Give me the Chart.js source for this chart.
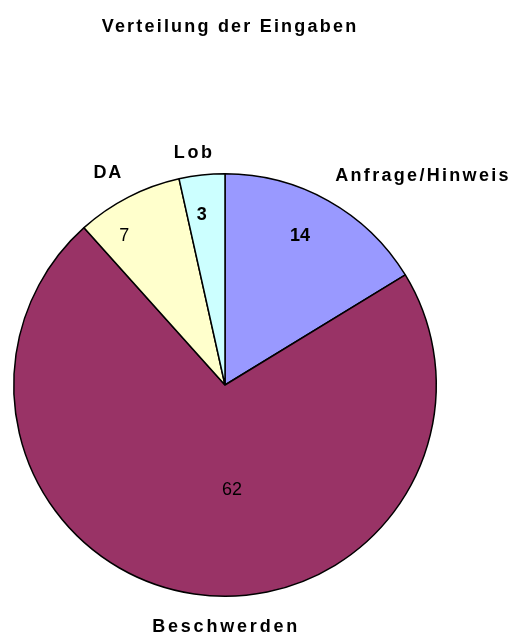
<!DOCTYPE html>
<html>
<head>
<meta charset="utf-8">
<script src="https://cdn.jsdelivr.net/npm/chart.js@4/dist/chart.umd.min.js"></script>
<style>
  html, body { margin: 0; padding: 0; background: #ffffff; }
  #wrap { width: 514px; height: 635px; position: relative; }
</style>
</head>
<body>
<div id="wrap"><canvas id="c"></canvas></div>
<script>
// ---- data ----
const chartTitle = "Verteilung der Eingaben";
const categories = ["Anfrage/Hinweis", "Beschwerden", "DA", "Lob"];
const values = [14, 62, 7, 3];

// ---- style ----
const colors = ["#9999FF", "#993366", "#FFFFCC", "#CCFFFF"];
const valueBold = [true, false, false, true];
// label placement: [angle offset (deg), radius factor]
const valuePlace = [[-2.6, 0.79], [-12.2, 0.50], [-6.9, 0.85], [-1.5, 0.81]];
const namePlace  = [[14.0, 1.36], [-8.4, 1.145], [-1.8, 1.15], [-1.5, 1.11]];
const nameSpacing = ['2.3px', '2.8px', '1.8px', '2.6px'];

const FONT = '"Liberation Sans", Arial, sans-serif';

const labelPlugin = {
  id: 'labels',
  afterDatasetsDraw(chart) {
    const ctx = chart.ctx;
    const meta = chart.getDatasetMeta(0);
    ctx.save();
    ctx.fillStyle = '#000';
    ctx.textAlign = 'center';
    ctx.textBaseline = 'middle';
    meta.data.forEach((arc, i) => {
      const p = arc.getProps(['x', 'y', 'startAngle', 'endAngle', 'outerRadius'], true);
      const mid = (p.startAngle + p.endAngle) / 2;
      // value
      let a = mid + valuePlace[i][0] * Math.PI / 180;
      let r = p.outerRadius * valuePlace[i][1];
      ctx.font = (valueBold[i] ? 'bold ' : '') + '18px ' + FONT;
      ctx.letterSpacing = '0px';
      ctx.fillText(String(values[i]), p.x + Math.cos(a) * r, p.y + Math.sin(a) * r);
      // name
      a = mid + namePlace[i][0] * Math.PI / 180;
      r = p.outerRadius * namePlace[i][1];
      ctx.font = 'bold 18px ' + FONT;
      ctx.letterSpacing = nameSpacing[i];
      ctx.fillText(categories[i], p.x + Math.cos(a) * r + 1, p.y + Math.sin(a) * r);
    });
    // title
    ctx.font = 'bold 18px ' + FONT;
    ctx.letterSpacing = '2.2px';
    ctx.fillText(chartTitle, 230, 27);
    ctx.restore();
  }
};

new Chart(document.getElementById('c'), {
  type: 'pie',
  data: {
    labels: categories,
    datasets: [{
      data: values,
      backgroundColor: colors,
      borderColor: '#000000',
      borderWidth: 1.5,
      hoverOffset: 0
    }]
  },
  options: {
    responsive: true,
    maintainAspectRatio: false,
    animation: false,
    layout: { padding: { left: 13, right: 77, top: 173, bottom: 38 } },
    plugins: {
      legend: { display: false },
      tooltip: { enabled: false },
      title: { display: false }
    },
    events: []
  },
  plugins: [labelPlugin]
});
</script>
</body>
</html>
